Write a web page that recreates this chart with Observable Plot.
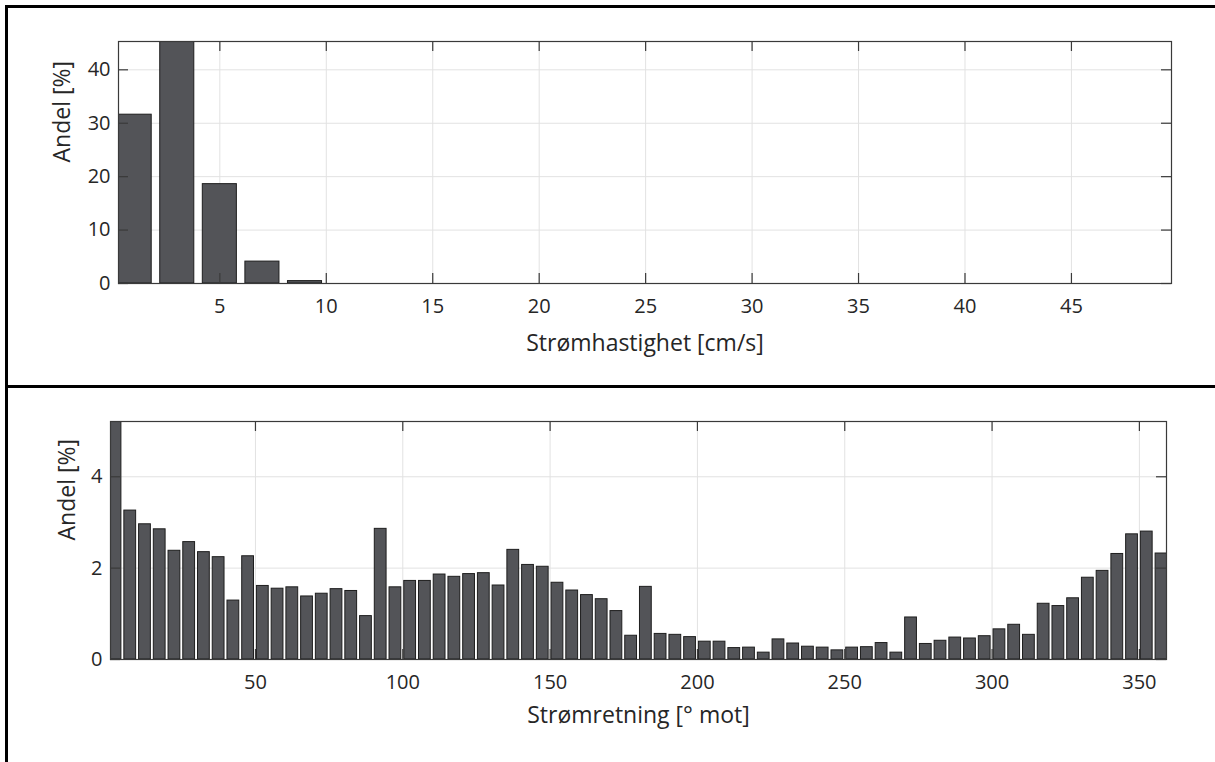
<!DOCTYPE html>
<html><head><meta charset="utf-8">
<script src="https://cdn.jsdelivr.net/npm/d3@7"></script>
<script src="https://cdn.jsdelivr.net/npm/@observablehq/plot@0.6"></script>
<style>
html,body{margin:0;padding:0;background:#fff;}
#page{position:relative;width:1215px;height:762px;overflow:hidden;background:#fff;}
.panel{position:absolute;left:0;}
.cell{position:absolute;border-top:3px solid #000;border-left:3px solid #000;pointer-events:none;}
</style></head><body><div id="page">
<div class="panel" id="p1" style="top:0px"></div>
<div class="panel" id="p2" style="top:387px"></div>
<div class="cell" style="left:5px;top:5px;width:1300px;height:380px"></div>
<div class="cell" style="left:5px;top:385px;width:1300px;height:500px"></div>
</div>
<script>
// Top panel: current speed histogram (bin centres in cm/s, share in %)
const speedCenters = [1, 3, 5, 7, 9];
const speedShare = [31.6, 45.3, 18.6, 4.1, 0.45];
const speedXTicks = [5, 10, 15, 20, 25, 30, 35, 40, 45];
const speedYTicks = [0, 10, 20, 30, 40];
const speedLabel = "Strømhastighet [cm/s]";

// Bottom panel: current direction histogram (5° bins, centres), share in %
const dirCenters = [2.5,7.5,12.5,17.5,22.5,27.5,32.5,37.5,42.5,47.5,52.5,57.5,62.5,67.5,72.5,77.5,82.5,87.5,92.5,97.5,
  102.5,107.5,112.5,117.5,122.5,127.5,132.5,137.5,142.5,147.5,152.5,157.5,162.5,167.5,172.5,177.5,182.5,187.5,192.5,197.5,
  202.5,207.5,212.5,217.5,222.5,227.5,232.5,237.5,242.5,247.5,252.5,257.5,262.5,267.5,272.5,277.5,282.5,287.5,292.5,297.5,
  302.5,307.5,312.5,317.5,322.5,327.5,332.5,337.5,342.5,347.5,352.5,357.5];
const dirShare = [5.21,3.26,2.96,2.85,2.38,2.57,2.35,2.24,1.29,2.26,1.61,1.55,1.58,1.38,1.44,1.54,1.50,0.95,2.86,1.58,
  1.72,1.72,1.86,1.81,1.87,1.89,1.62,2.40,2.07,2.03,1.68,1.51,1.41,1.32,1.06,0.52,1.59,0.56,0.54,0.49,
  0.39,0.39,0.25,0.26,0.15,0.44,0.35,0.28,0.26,0.20,0.26,0.27,0.36,0.15,0.92,0.34,0.41,0.48,0.46,0.51,
  0.66,0.76,0.54,1.22,1.17,1.34,1.79,1.94,2.31,2.74,2.80,2.32];
const dirXTicks = [50, 100, 150, 200, 250, 300, 350];
const dirYTicks = [0, 2, 4];
const dirLabel = "Strømretning [° mot]";
const yLabel = "Andel [%]";

const FONT = "'Open Sans', 'Noto Sans', sans-serif";
const TXT = "#262626";
const GRID = "#e2e2e2";
const AX = "#3a3a3a";
const BAR = "#535458";
const EDGE = "#1e1e1e";

function panel({centers, values, halfWidth, xDomain, yDomain, xTicks, yTicks, xLabel,
                W, H, mt, mb, ml, mr, xLabelDy, yLabelDx}) {
  const data = centers.map((c, i) => ({c, v: values[i]}));
  const pw = W - ml - mr, ph = H - mt - mb, tl = 10;
  return Plot.plot({
    width: W, height: H,
    marginTop: mt, marginBottom: mb, marginLeft: ml, marginRight: mr,
    style: {fontFamily: FONT, fontSize: "20px", color: TXT, background: "transparent", overflow: "visible"},
    x: {domain: xDomain},
    y: {domain: yDomain},
    marks: [
      Plot.ruleX(xTicks, {stroke: GRID, strokeOpacity: 1}),
      Plot.ruleY(yTicks, {stroke: GRID, strokeOpacity: 1}),
      Plot.rectY(data, {x1: d => d.c - halfWidth, x2: d => d.c + halfWidth, y1: 0, y2: "v",
        fill: BAR, stroke: EDGE, strokeWidth: 1, clip: true}),
      Plot.frame({stroke: AX, strokeWidth: 1.2}),
      Plot.ruleX(xTicks, {insetTop: ph - tl, stroke: AX, strokeWidth: 1.2}),
      Plot.ruleX(xTicks, {insetBottom: ph - tl, stroke: AX, strokeWidth: 1.2}),
      Plot.ruleY(yTicks, {insetRight: pw - tl, stroke: AX, strokeWidth: 1.2}),
      Plot.ruleY(yTicks, {insetLeft: pw - tl, stroke: AX, strokeWidth: 1.2}),
      Plot.axisX({ticks: xTicks, tickSize: 0, tickPadding: 15, label: null, tickFormat: d => String(d), fontSize: 20}),
      Plot.axisY({ticks: yTicks, tickSize: 0, tickPadding: 8, label: null, tickFormat: d => String(d), fontSize: 20}),
      Plot.text([xLabel], {text: d => d, frameAnchor: "bottom", dy: xLabelDy, fontSize: 23, fill: TXT}),
      Plot.text([yLabel], {text: d => d, frameAnchor: "left", dx: yLabelDx, rotate: -90, fontSize: 23, fill: TXT})
    ]
  });
}

document.getElementById("p1").appendChild(panel({
  centers: speedCenters, values: speedShare, halfWidth: 0.8,
  xDomain: [0.24, 49.7], yDomain: [0, 45.3], xTicks: speedXTicks, yTicks: speedYTicks, xLabel: speedLabel,
  W: 1215, H: 387, mt: 41, mb: 104, ml: 118, mr: 44, xLabelDy: 67, yLabelDx: -56
}));
document.getElementById("p2").appendChild(panel({
  centers: dirCenters, values: dirShare, halfWidth: 2,
  xDomain: [0.8, 359.2], yDomain: [0, 5.21], xTicks: dirXTicks, yTicks: dirYTicks, xLabel: dirLabel,
  W: 1215, H: 375, mt: 34, mb: 103, ml: 110, mr: 49, xLabelDy: 63, yLabelDx: -43
}));
</script>
</body></html>
